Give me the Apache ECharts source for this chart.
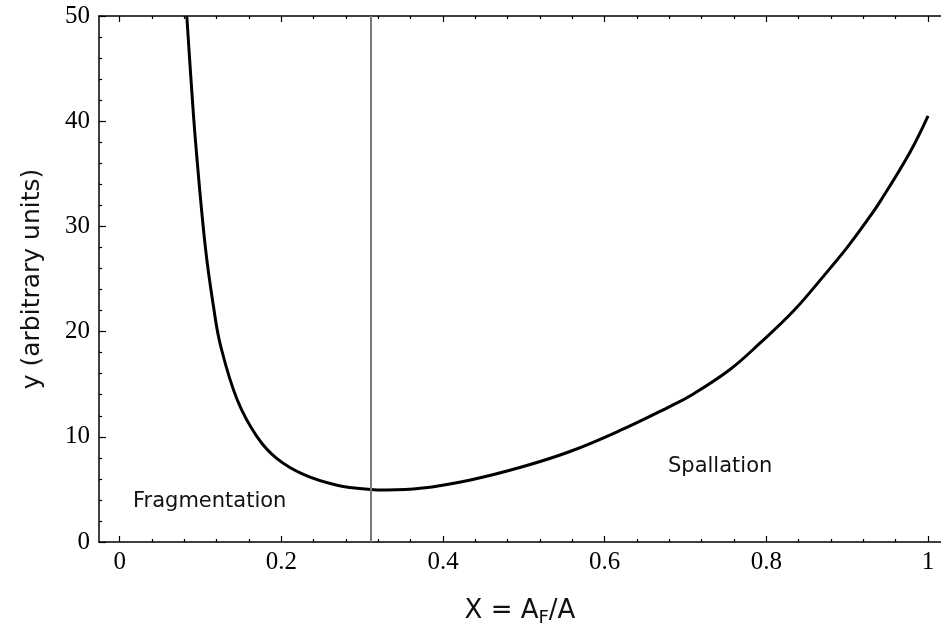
<!DOCTYPE html>
<html>
<head>
<meta charset="utf-8">
<script src="https://cdn.jsdelivr.net/npm/echarts@6/dist/echarts.min.js"></script>
<style>
  html, body { margin: 0; padding: 0; background: #fff; }
  #main { width: 941px; height: 637px; }
</style>
</head>
<body>
<div id="main"></div>
<script>
// curve
const xValues = [0.083, 0.088, 0.094, 0.106, 0.116, 0.125, 0.1455, 0.170, 0.195, 0.228, 0.269, 0.310, 0.330,
  0.372, 0.434, 0.496, 0.557, 0.619, 0.681, 0.706, 0.755, 0.792, 0.834, 0.871, 0.900, 0.924, 0.941, 0.978, 1.000];
const yValues = [50.0, 44.2, 37.9, 28.0, 22.4, 18.6, 13.5, 10.0, 7.9, 6.4, 5.4, 5.0, 4.95,
  5.1, 5.9, 7.1, 8.6, 10.6, 12.9, 13.9, 16.4, 18.9, 22.0, 25.3, 28.0, 30.5, 32.4, 37.1, 40.5];
const cutX = 0.3124;

const xTicks = [0, 0.2, 0.4, 0.6, 0.8, 1];
const xMinorTicks = [0.04, 0.08, 0.12, 0.16, 0.24, 0.28, 0.32, 0.36, 0.44, 0.48, 0.52, 0.56,
  0.64, 0.68, 0.72, 0.76, 0.84, 0.88, 0.92, 0.96];
const xMin = -0.0256, xMax = 1.016;

const labelFont = 'Liberation Serif';
const titleFont = 'DejaVu Sans';

var chart = echarts.init(document.getElementById('main'));

function xAxisDef(pos, ticks, len, withLine, withLabel) {
  return {
    type: 'value',
    position: pos,
    min: xMin,
    max: xMax,
    axisLine: { show: withLine, onZero: false, lineStyle: { color: '#000', width: 1.5 } },
    axisTick: { show: true, inside: true, length: len, customValues: ticks, lineStyle: { color: '#000', width: 1.2 } },
    axisLabel: withLabel ? {
      show: true, customValues: ticks, margin: 8,
      fontFamily: labelFont, fontSize: 25, color: '#000',
      formatter: function (v) { return String(+v.toFixed(2)); }
    } : { show: false },
    splitLine: { show: false }
  };
}

var xAxes = [
  xAxisDef('bottom', xTicks, 6, true, true),
  xAxisDef('bottom', xMinorTicks, 3, false, false),
  xAxisDef('top', xTicks, 6, true, false),
  xAxisDef('top', xMinorTicks, 3, false, false)
];
xAxes[0].name = 'X = A{sub|F}/A';
xAxes[0].nameLocation = 'middle';
xAxes[0].nameGap = 53;
xAxes[0].nameTextStyle = {
  fontFamily: titleFont, fontSize: 26, color: '#111',
  rich: { sub: { fontFamily: titleFont, fontSize: 18, color: '#111', padding: [14, 0, 0, 0] } }
};

option = {
  backgroundColor: '#fff',
  animation: false,
  grid: { left: 99, top: 16, right: 0, bottom: 95, outerBoundsMode: 'none' },
  xAxis: xAxes,
  yAxis: {
    type: 'value',
    min: 0,
    max: 50,
    interval: 10,
    name: 'y (arbitrary units)',
    nameLocation: 'middle',
    nameGap: 54,
    nameTextStyle: { fontFamily: titleFont, fontSize: 25, color: '#111' },
    axisLine: { show: true, onZero: false, lineStyle: { color: '#000', width: 1.5 } },
    axisTick: { show: true, inside: true, length: 7, lineStyle: { color: '#000', width: 1.2 } },
    minorTick: { show: true, splitNumber: 5, length: 3, lineStyle: { color: '#000', width: 1.2 } },
    axisLabel: { margin: 9, fontFamily: labelFont, fontSize: 25, color: '#000' },
    splitLine: { show: false }
  },
  graphic: [
    { type: 'text', left: 133, top: 491, style: { text: 'Fragmentation', fontFamily: titleFont, fontSize: 21, fill: '#111' } },
    { type: 'text', left: 668, top: 456, style: { text: 'Spallation', fontFamily: titleFont, fontSize: 21, fill: '#111' } }
  ],
  series: [{
    type: 'line',
    xAxisIndex: 0,
    showSymbol: false,
    smooth: 0.4,
    clip: true,
    lineStyle: { color: '#000', width: 3 },
    data: xValues.map(function (x, i) { return [x, yValues[i]]; }),
    markLine: {
      silent: true,
      symbol: 'none',
      label: { show: false },
      lineStyle: { color: '#777', width: 2, type: 'solid' },
      data: [{ xAxis: cutX }]
    }
  }]
};

chart.setOption(option);
</script>
</body>
</html>
